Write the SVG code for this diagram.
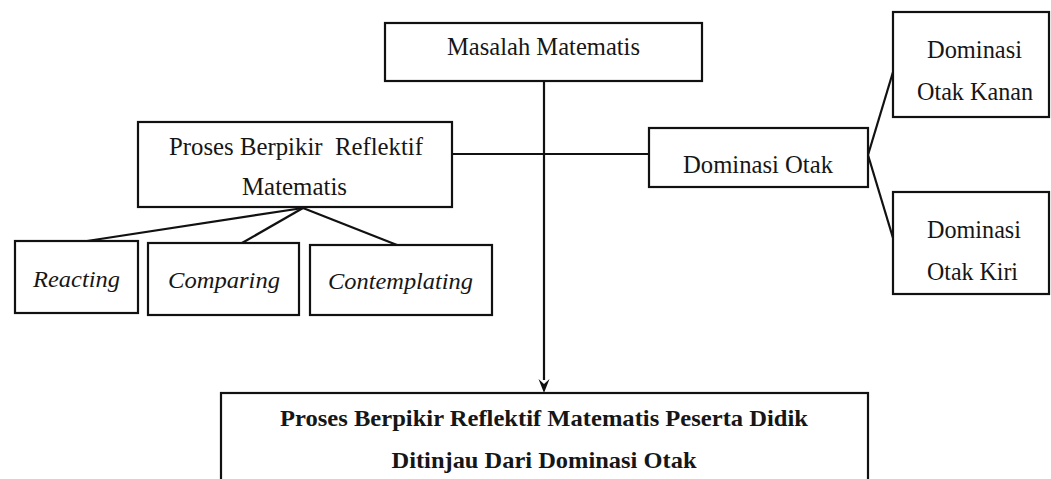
<svg xmlns="http://www.w3.org/2000/svg" width="1051" height="479" viewBox="0 0 1051 479">
  <defs>
    <style>
      .box { fill: #fff; stroke: #111; stroke-width: 2.2; }
      .line { fill: none; stroke: #111; stroke-width: 2.2; }
      .t { font-family: "Liberation Serif", "Times New Roman", serif; font-size: 24.5px; fill: #161616; text-anchor: middle; }
      .i { font-style: italic; font-size: 24px; }
      .b { font-weight: bold; font-size: 23.5px; }
    </style>
  </defs>
  <rect width="1051" height="479" fill="#fff"/>

  <g id="connectors">
    <line class="line" x1="544" y1="81" x2="544" y2="380"/>
    <path d="M538.5,379 L544,384 L549.5,379 L544,393 Z" fill="#111"/>
    <line class="line" x1="452" y1="154" x2="649" y2="154"/>
    <line class="line" x1="303" y1="208" x2="87" y2="241"/>
    <line class="line" x1="303" y1="208" x2="242" y2="243"/>
    <line class="line" x1="303" y1="208" x2="397" y2="245"/>
    <line class="line" x1="868" y1="155" x2="893" y2="72"/>
    <line class="line" x1="868" y1="155" x2="893" y2="238"/>
  </g>

  <g id="masalah">
    <rect class="box" x="385" y="23" width="317" height="58"/>
    <text class="t" x="543.5" y="55" textLength="193" lengthAdjust="spacingAndGlyphs">Masalah Matematis</text>
  </g>

  <g id="proses">
    <rect class="box" x="138" y="122" width="314" height="85"/>
    <text class="t" x="296" y="155" textLength="254" lengthAdjust="spacingAndGlyphs" xml:space="preserve">Proses Berpikir  Reflektif</text>
    <text class="t" x="294.5" y="195" textLength="105" lengthAdjust="spacingAndGlyphs">Matematis</text>
  </g>

  <g id="reacting">
    <rect class="box" x="15" y="241" width="123" height="72"/>
    <text class="t i" x="76.5" y="287" textLength="87" lengthAdjust="spacingAndGlyphs">Reacting</text>
  </g>

  <g id="comparing">
    <rect class="box" x="148" y="243" width="151" height="72"/>
    <text class="t i" x="224" y="288" textLength="112" lengthAdjust="spacingAndGlyphs">Comparing</text>
  </g>

  <g id="contemplating">
    <rect class="box" x="310" y="245" width="182" height="70"/>
    <text class="t i" x="400.5" y="289" textLength="145" lengthAdjust="spacingAndGlyphs">Contemplating</text>
  </g>

  <g id="dominasi-otak">
    <rect class="box" x="649" y="128" width="219" height="59"/>
    <text class="t" x="758" y="173" textLength="150" lengthAdjust="spacingAndGlyphs">Dominasi Otak</text>
  </g>

  <g id="otak-kanan">
    <rect class="box" x="893" y="12" width="156" height="105"/>
    <text class="t" x="974.5" y="58" textLength="95" lengthAdjust="spacingAndGlyphs">Dominasi</text>
    <text class="t" x="975" y="100" textLength="116" lengthAdjust="spacingAndGlyphs">Otak Kanan</text>
  </g>

  <g id="otak-kiri">
    <rect class="box" x="893" y="192" width="156" height="102"/>
    <text class="t" x="974" y="238" textLength="94" lengthAdjust="spacingAndGlyphs">Dominasi</text>
    <text class="t" x="972.5" y="280" textLength="91" lengthAdjust="spacingAndGlyphs">Otak Kiri</text>
  </g>

  <g id="hasil">
    <rect class="box" x="221" y="393" width="647" height="100"/>
    <text class="t b" x="544" y="426" textLength="528" lengthAdjust="spacingAndGlyphs">Proses Berpikir Reflektif Matematis Peserta Didik</text>
    <text class="t b" x="544" y="468" textLength="305" lengthAdjust="spacingAndGlyphs">Ditinjau Dari Dominasi Otak</text>
  </g>
</svg>
